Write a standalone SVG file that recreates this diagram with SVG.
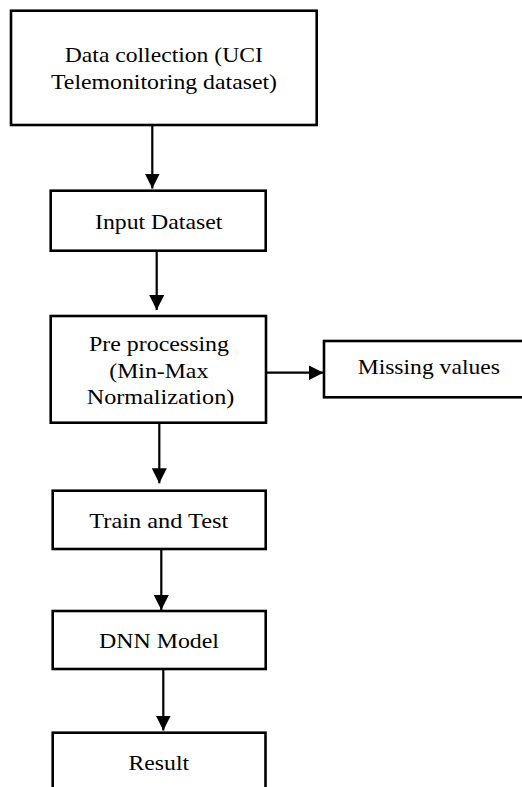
<svg xmlns="http://www.w3.org/2000/svg" width="522" height="787" viewBox="0 0 522 787">
  <style>
    .box { fill: #ffffff; stroke: #000000; stroke-width: 2.6; }
    .lbl { font-family: "Liberation Serif", "Times New Roman", serif; font-size: 21.5px; fill: #000000; text-anchor: middle; }
    .edge { stroke: #000000; stroke-width: 2.2; fill: none; marker-end: url(#head); }
  </style>
  <defs>
    <marker id="head" markerUnits="userSpaceOnUse" markerWidth="15" markerHeight="15" refX="15" refY="7.5" orient="auto">
      <path d="M0,0 L15,7.5 L0,15 Z" fill="#000000"/>
    </marker>
  </defs>
  <rect width="522" height="787" fill="#ffffff"/>

  <g id="connectors">
    <line class="edge" x1="152.3" y1="125" x2="152.3" y2="188.5"/>
    <line class="edge" x1="156.7" y1="250.7" x2="156.7" y2="310"/>
    <line class="edge" x1="159.3" y1="422.7" x2="159.3" y2="483.3"/>
    <line class="edge" x1="161.3" y1="549" x2="161.3" y2="610"/>
    <line class="edge" x1="163.3" y1="669" x2="163.3" y2="730.5"/>
    <line class="edge" x1="266" y1="372.7" x2="323.5" y2="372.7"/>
  </g>

  <g id="data-collection">
    <rect class="box" x="11" y="10.7" width="305.7" height="114.3"/>
    <text class="lbl" x="163.8" y="61.7" textLength="198" lengthAdjust="spacingAndGlyphs">Data collection (UCI</text>
    <text class="lbl" x="164" y="89.3" textLength="226" lengthAdjust="spacingAndGlyphs">Telemonitoring dataset)</text>
  </g>

  <g id="input-dataset">
    <rect class="box" x="50.7" y="190.7" width="215" height="60"/>
    <text class="lbl" x="158.7" y="229" textLength="127.3" lengthAdjust="spacingAndGlyphs">Input Dataset</text>
  </g>

  <g id="pre-processing">
    <rect class="box" x="50.7" y="316" width="215.3" height="106.7"/>
    <text class="lbl" x="159" y="351" textLength="140" lengthAdjust="spacingAndGlyphs">Pre processing</text>
    <text class="lbl" x="158.8" y="377.5" textLength="99" lengthAdjust="spacingAndGlyphs">(Min-Max</text>
    <text class="lbl" x="160.5" y="404" textLength="147.6" lengthAdjust="spacingAndGlyphs">Normalization)</text>
  </g>

  <g id="missing-values">
    <rect class="box" x="324" y="341" width="211" height="56.3"/>
    <text class="lbl" x="428.8" y="374" textLength="142.3" lengthAdjust="spacingAndGlyphs">Missing values</text>
  </g>

  <g id="train-test">
    <rect class="box" x="52.7" y="490.7" width="213" height="58.3"/>
    <text class="lbl" x="158.8" y="527.7" textLength="139" lengthAdjust="spacingAndGlyphs">Train and Test</text>
  </g>

  <g id="dnn-model">
    <rect class="box" x="52.7" y="611" width="213" height="58"/>
    <text class="lbl" x="159" y="647.7" textLength="120" lengthAdjust="spacingAndGlyphs">DNN Model</text>
  </g>

  <g id="result">
    <rect class="box" x="52.7" y="732.7" width="212.8" height="70"/>
    <text class="lbl" x="158.8" y="769.5" textLength="60.5" lengthAdjust="spacingAndGlyphs">Result</text>
  </g>
</svg>
